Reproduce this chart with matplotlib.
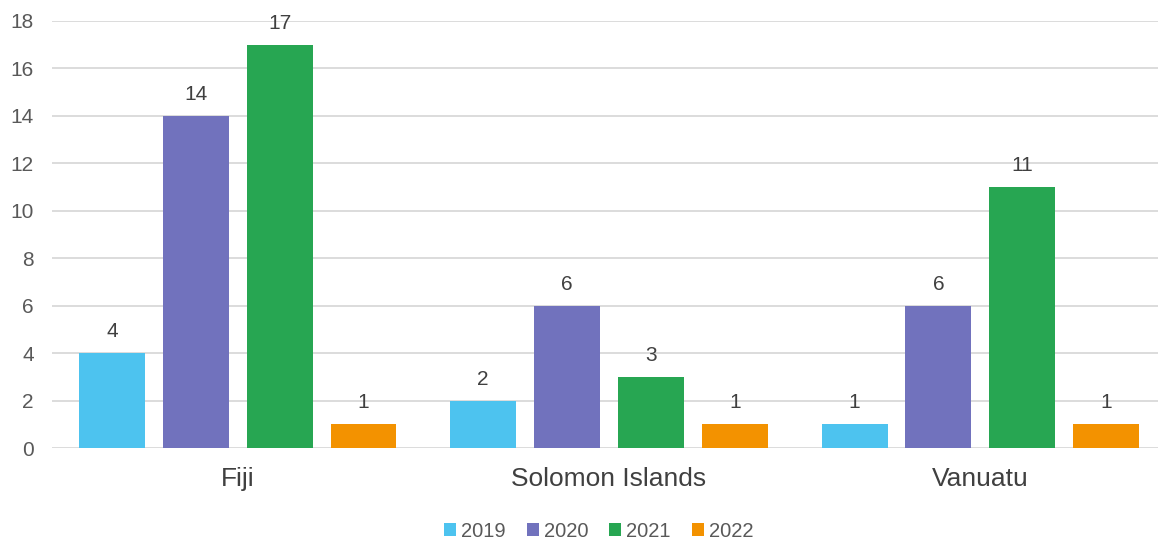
import matplotlib
matplotlib.use("Agg")
import matplotlib.pyplot as plt
import numpy as np

plt.rcParams['font.family'] = ['Liberation Sans', 'DejaVu Sans']

categories = ["Fiji", "Solomon Islands", "Vanuatu"]
series_names = ["2019", "2020", "2021", "2022"]
values_2019 = [4, 2, 1]
values_2020 = [14, 6, 6]
values_2021 = [17, 3, 11]
values_2022 = [1, 1, 1]
colors = ["#4DC3EF", "#7172BD", "#27A652", "#F39200"]
yticks = [0, 2, 4, 6, 8, 10, 12, 14, 16, 18]

series = [values_2019, values_2020, values_2021, values_2022]
text_color = "#595959"

fig = plt.figure(figsize=(11.58, 5.4), dpi=100)
ax = fig.add_axes([52/1158, 1-448/540, (1166-52)/1158, (448-21)/540])

x = np.arange(len(categories))
step = 0.2258
width = 0.1774
for i, (vals, name, c) in enumerate(zip(series, series_names, colors)):
    pos = x + (i - 1.5) * step
    bars = ax.bar(pos, vals, width=width, color=c, label=name, zorder=3)
    for b, v in zip(bars, vals):
        ax.text(b.get_x() + b.get_width()/2, v + 0.5, str(v), ha='center', va='bottom',
                fontsize=15, color="#404040")

ax.set_xlim(-0.5, 2.5)
ax.set_ylim(0, 18)
ax.set_yticks(yticks)
ax.yaxis.grid(True, color="#D9D9D9", linewidth=1.3, zorder=0)
ax.set_axisbelow(True)
for s in ax.spines.values():
    s.set_visible(False)
ax.tick_params(axis='y', length=0, labelsize=15, labelcolor=text_color, pad=13)
ax.tick_params(axis='x', length=0, labelsize=19, labelcolor="#404040", pad=14)
ax.set_xticks(x)
ax.set_xticklabels(categories)

leg = fig.legend(loc='lower center', bbox_to_anchor=(0.517, -0.035), ncol=4, frameon=False,
                 fontsize=14.5, handlelength=0.6, handleheight=0.6, handletextpad=0.25,
                 columnspacing=1.05)
for t in leg.get_texts():
    t.set_color(text_color)

fig.savefig("out.png", dpi=100)
